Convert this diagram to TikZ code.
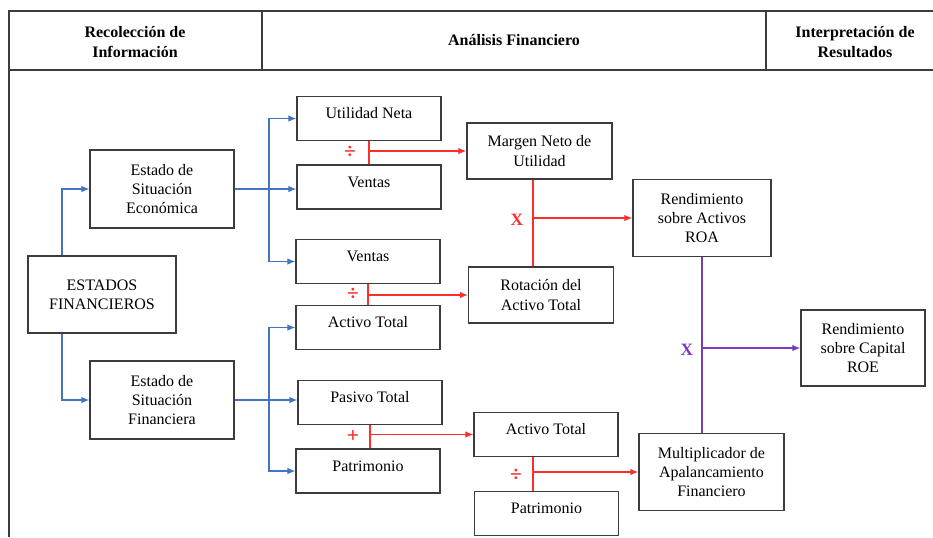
\documentclass[tikz,border=0pt]{standalone}
\usepackage{fontspec}
\setmainfont{Liberation Serif}
\usetikzlibrary{arrows.meta}
\definecolor{azul}{RGB}{68,114,196}
\definecolor{rojo}{RGB}{255,45,45}
\definecolor{morado}{RGB}{120,60,190}
\definecolor{marco}{RGB}{60,60,60}

\begin{document}
\begin{tikzpicture}[x=0.75pt, y=-0.75pt, >={Latex[length=6pt,width=5pt]},
    caja/.style={draw=marco, line width=1.1pt, align=center, inner sep=2pt,
        font=\fontsize{12}{14.3}\selectfont},
    cajita/.style={caja, minimum width=108pt, minimum height=33pt,
        text height=8pt, text depth=8pt},
    cajados/.style={caja, minimum width=108.75pt, minimum height=42pt},
    cajatres/.style={caja, minimum width=108pt, minimum height=58.5pt},
    titulo/.style={align=center, font=\fontsize{12}{14.3}\selectfont\bfseries},
    flecha azul/.style={draw=azul, line width=0.8pt},
    flecha roja/.style={draw=rojo, line width=0.9pt},
    flecha morada/.style={draw=morado, line width=0.9pt},
    signo/.style={font=\fontsize{16}{16}\selectfont\bfseries}]

    \useasboundingbox (0,0) rectangle (933,537);
    \clip (0,0) rectangle (933,537);

    % 1. Encabezado de la tabla
    \draw[marco, line width=1.1pt] (9,537) -- (9,11) -- (940,11);
    \draw[marco, line width=2.2pt] (9,70) -- (940,70);
    \draw[marco, line width=1.1pt] (262,11) -- (262,70);
    \draw[marco, line width=1.1pt] (766,11) -- (766,70);
    \node[titulo] (hd1) at (135,42) {Recolección de\\Información};
    \node[titulo] (hd2) at (514,40) {Análisis Financiero};
    \node[titulo] (hd3) at (855,42) {Interpretación de\\Resultados};

    % 2. Recolección de información
    \node[caja, minimum width=111pt, minimum height=57.75pt] (ef) at (102,294.5) {ESTADOS\\FINANCIEROS};
    \node[cajatres] (ese) at (162,189) {Estado de\\Situación\\Económica};
    \node[cajatres] (esf) at (162,400) {Estado de\\Situación\\Financiera};

    % 3. Cuentas
    \node[cajita] (un) at (369,118.5) {Utilidad Neta};
    \node[cajita] (v1) at (369,187) {Ventas};
    \node[cajita] (v2) at (368,261.5) {Ventas};
    \node[cajita] (at1) at (368,327.5) {Activo Total};
    \node[cajita] (pt) at (370,402.5) {Pasivo Total};
    \node[cajita] (pat1) at (368,471) {Patrimonio};
    \node[cajita] (at2) at (546,434.5) {Activo Total};
    \node[cajita] (pat2) at (546.5,513.5) {Patrimonio};

    % 4. Razones
    \node[cajados] (mnu) at (539.5,151) {Margen Neto de\\Utilidad};
    \node[cajados] (rat) at (541,295) {Rotación del\\Activo Total};
    \node[caja, minimum width=103.5pt, minimum height=57.75pt] (roa) at (702,218) {Rendimiento\\sobre Activos\\ROA};
    \node[caja, minimum width=108.75pt, minimum height=57.75pt] (mul) at (711.5,472) {Multiplicador de\\Apalancamiento\\Financiero};
    \node[caja, minimum width=93pt, minimum height=57pt] (roe) at (863,348) {Rendimiento\\sobre Capital\\ROE};

    % columnas de las uniones
    \coordinate (ca) at (62,0);
    \coordinate (cb) at (269,0);
    \coordinate (cr) at (533,0);

    % 5. Flechas azules
    \draw[flecha azul, ->] (ef.north -| ca) |- (ese.west);
    \draw[flecha azul, ->] (ef.south -| ca) |- (esf.west);
    \draw[flecha azul, ->] (ese.east) -- (ese.east -| v1.west);
    \draw[flecha azul, ->] (ese.east -| cb) |- (un.west);
    \draw[flecha azul, ->] (ese.east -| cb) |- (v2.west);
    \draw[flecha azul, ->] (esf.east) -- (esf.east -| pt.west);
    \draw[flecha azul, ->] (esf.east -| cb) |- (at1.west);
    \draw[flecha azul, ->] (esf.east -| cb) |- (pat1.west);

    % 6. Operaciones en rojo
    \draw[flecha roja] (un.south) -- (v1.north);
    \draw[flecha roja, ->] (un.south |- mnu.west) -- (mnu.west);
    \node[signo, text=rojo] (op1) at (350,152) {÷};

    \draw[flecha roja] (v2.south) -- (v2.south |- at1.north);
    \draw[flecha roja, ->] (v2.south |- rat.west) -- (rat.west);
    \node[signo, text=rojo] (op2) at (353,294) {÷};

    \draw[flecha roja] (pt.south) -- (pt.south |- pat1.north);
    \draw[flecha roja, ->] (pt.south |- at2.west) -- (at2.west);
    \node[signo, text=rojo] (op3) at (353,436) {+};

    \draw[flecha roja] (mnu.south -| cr) -- (rat.north -| cr);
    \draw[flecha roja, ->] (cr |- roa.west) -- (roa.west);
    \node[signo, text=rojo, font=\fontsize{13}{13}\selectfont\bfseries] (op4) at (517,220) {X};

    \draw[flecha roja] (at2.south -| cr) -- (pat2.north -| cr);
    \draw[flecha roja, ->] (cr |- mul.west) -- (mul.west);
    \node[signo, text=rojo] (op5) at (516,475) {÷};

    % 7. ROE
    \draw[flecha morada] (roa.south) -- (roa.south |- mul.north);
    \draw[flecha morada, ->] (roa.south |- roe.west) -- (roe.west);
    \node[signo, text=morado, font=\fontsize{13}{13}\selectfont\bfseries] (op6) at (687,350) {X};
\end{tikzpicture}
\end{document}
